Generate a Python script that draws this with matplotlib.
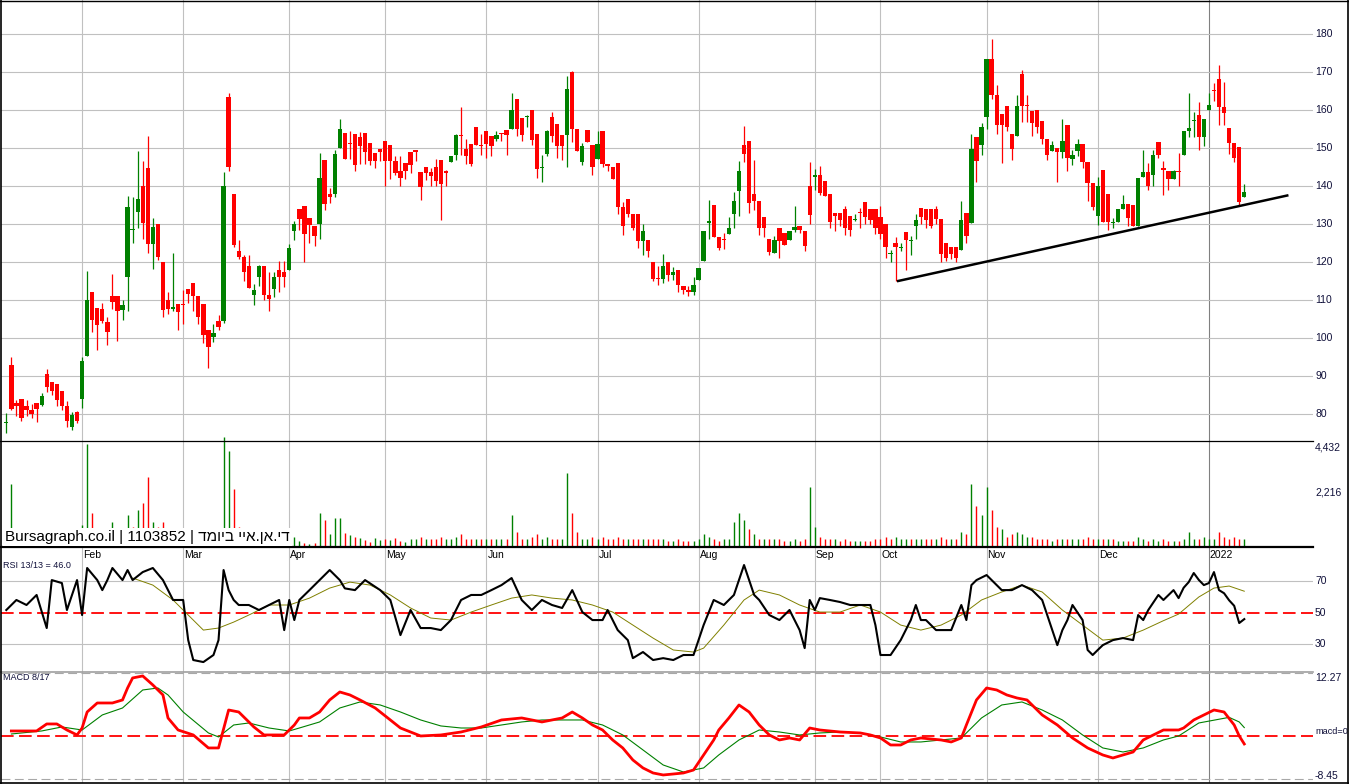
import matplotlib
matplotlib.use("Agg")
import matplotlib.pyplot as plt
from matplotlib.lines import Line2D

plt.rcParams['font.family'] = ['Liberation Sans', 'DejaVu Sans']

# ---------------- data ----------------
opens = [77.5,93.0,82.9,83.9,82.2,81.1,82.9,82.4,90.6,88.4,88.0,86.1,82.0,76.5,80.4,84.0,95.2,112.2,108.0,107.5,
104.2,111.1,111.1,107.3,116.0,128.4,133.1,139.9,144.7,124.7,130.0,120.0,110.1,107.5,108.9,109.0,113.0,114.5,111.0,108.9,
102.2,100.2,104.5,104.5,163.5,138.0,123.0,121.4,119.0,111.2,116.0,119.0,111.4,113.0,118.0,117.3,118.0,128.1,134.0,134.8,
131.7,129.6,130.0,146.9,138.0,138.0,150.0,154.0,151.1,153.7,152.9,154.0,151.3,148.7,149.7,151.9,150.9,146.7,144.0,146.1,
149.0,149.6,143.7,145.1,143.6,145.1,146.9,144.0,146.2,148.1,153.4,149.8,151.1,155.6,150.7,154.6,153.1,152.5,154.0,154.8,
155.1,163.0,157.9,158.1,160.1,153.8,144.8,148.4,158.1,156.4,153.5,153.5,169.9,155.1,146.2,154.8,150.9,147.1,154.6,145.9,
145.1,146.1,134.4,136.7,132.5,132.5,125.4,125.9,120.0,115.6,115.5,120.0,116.6,118.0,113.8,112.5,112.0,115.2,120.2,130.3,
135.1,126.6,125.9,127.4,132.6,138.6,150.7,151.9,138.0,136.0,131.8,126.1,122.4,128.9,127.6,125.7,128.3,129.6,128.2,140.1,
142.4,142.9,141.2,138.0,132.9,132.9,134.0,132.0,131.1,133.0,135.8,134.0,134.0,131.8,130.0,122.0,125.0,123.8,127.9,125.5,
129.6,134.2,134.0,134.0,134.0,131.3,125.0,123.9,123.9,123.2,132.9,130.3,152.9,150.9,158.1,173.5,164.0,159.0,161.1,153.8,
153.1,169.6,161.2,159.8,160.0,157.0,152.5,149.1,150.0,148.9,156.1,147.2,149.1,151.1,146.2,140.8,132.2,144.3,138.0,130.2,
130.5,134.0,135.3,135.1,129.4,142.4,143.7,143.0,151.6,144.7,144.0,141.9,143.7,148.2,154.6,157.2,158.8,152.8,159.9,165.2,
168.2,160.7,155.3,151.3,150.3,137.1]
highs = [80.3,94.9,83.8,84.0,83.8,82.7,83.0,85.5,91.8,88.4,88.0,86.1,83.5,80.4,80.7,94.9,117.7,112.2,108.0,109.2,
105.5,116.9,111.1,110.0,137.3,137.0,149.3,146.7,153.2,131.6,130.0,120.0,112.2,122.4,108.9,112.7,113.0,114.5,111.0,109.0,
102.2,103.7,106.0,143.7,164.6,138.0,125.9,121.9,121.9,114.3,119.3,119.0,117.3,117.3,120.2,120.2,124.8,130.7,134.0,134.8,
131.7,129.6,148.7,146.9,139.5,149.5,157.7,154.0,154.6,153.7,154.1,154.0,151.3,148.7,149.7,151.9,150.9,147.8,147.8,146.1,
149.0,149.6,143.7,145.1,144.7,147.2,146.9,144.2,148.0,153.8,160.9,152.5,151.1,155.6,153.8,154.6,153.1,154.6,154.0,154.8,
164.6,163.0,157.9,158.8,160.1,153.8,148.2,154.8,159.5,156.4,153.5,169.0,170.3,155.1,151.3,154.8,150.9,154.6,154.6,145.9,
145.1,146.1,135.8,136.7,132.5,132.5,130.1,125.9,120.0,118.9,122.2,120.0,118.7,118.0,113.8,113.8,116.1,118.5,128.2,136.4,
135.1,126.6,127.6,131.8,138.3,146.7,155.7,151.9,146.9,136.0,131.8,126.1,126.9,128.9,127.6,128.2,134.8,129.6,128.2,146.2,
144.6,145.2,141.2,138.0,132.9,132.9,134.8,132.0,132.6,134.2,135.8,134.0,134.0,134.8,130.0,123.2,126.5,125.0,127.9,126.9,
132.6,134.2,134.0,134.0,134.8,131.3,125.0,123.9,123.9,136.0,132.9,153.8,152.9,156.6,173.5,178.8,166.7,159.0,161.1,153.8,
164.0,170.4,164.0,159.8,160.0,157.0,152.5,151.9,150.0,157.6,156.1,149.4,152.5,151.1,146.2,140.8,142.3,144.3,138.0,131.6,
134.0,137.7,135.3,135.1,142.1,149.6,146.1,149.6,151.6,146.5,144.0,144.3,148.7,154.6,164.6,159.4,162.1,157.6,164.6,167.1,
171.8,167.5,155.3,151.3,150.3,140.6]
lows = [75.0,81.0,79.4,78.1,79.4,79.0,77.9,82.2,85.9,84.9,82.0,81.1,76.5,75.9,77.6,81.6,95.2,101.5,96.9,104.0,
98.2,107.5,99.1,104.8,107.0,125.0,129.0,126.1,122.4,118.2,120.6,105.4,106.3,107.0,102.0,103.8,109.2,107.0,103.8,98.7,
92.0,98.9,102.0,104.0,143.9,123.9,120.7,114.9,113.2,108.8,113.8,110.0,107.0,110.7,112.0,113.3,118.0,125.9,128.5,119.9,
124.9,124.3,126.1,133.8,135.5,137.0,150.0,147.0,147.0,143.9,145.9,145.9,145.4,144.7,146.7,139.9,141.8,143.0,139.9,141.8,
143.4,146.7,136.4,141.7,139.9,139.9,131.0,139.9,146.2,146.8,148.1,145.9,145.2,150.7,148.2,147.5,147.8,151.8,151.8,148.2,
155.1,153.1,151.9,155.4,150.9,142.1,141.0,147.8,151.5,147.4,146.8,144.9,151.5,149.1,145.4,151.6,143.0,147.1,144.9,144.0,
141.9,132.7,127.2,131.8,128.3,123.7,121.9,121.3,114.9,113.9,114.6,114.9,115.2,112.1,111.6,111.1,111.4,115.2,120.2,126.1,
126.6,123.1,123.5,127.4,128.9,132.0,146.2,132.9,133.6,127.2,126.6,121.9,122.4,121.1,124.4,125.7,127.8,127.6,123.0,130.0,
138.9,137.6,137.3,128.9,128.1,129.6,127.2,126.9,130.7,128.9,130.0,130.0,127.4,126.1,121.1,120.0,114.9,122.8,117.8,121.9,
126.1,130.0,128.9,128.9,130.0,120.0,120.2,120.9,120.0,123.2,125.0,130.3,141.1,148.1,155.0,162.9,153.8,146.1,154.6,146.8,
153.1,156.8,156.8,153.1,154.0,151.1,146.8,149.1,141.0,147.4,143.9,145.4,147.8,144.7,136.0,133.6,129.8,130.5,128.3,129.0,
130.5,134.0,129.6,129.4,129.4,142.4,138.9,139.9,147.4,137.7,139.0,141.9,139.9,148.2,152.9,152.9,149.4,150.6,159.9,162.5,
156.1,156.1,148.5,146.3,135.1,137.1]
closes = [77.7,81.4,82.0,78.9,81.0,80.0,81.3,84.8,87.0,86.1,83.8,82.2,78.1,79.8,78.2,94.0,110.1,104.8,103.3,104.4,
101.5,109.4,107.0,108.8,134.5,128.6,136.7,130.3,124.7,129.3,121.2,107.3,107.5,108.2,106.8,108.8,111.5,111.0,105.4,100.7,
97.5,101.3,103.0,140.0,144.9,124.6,121.4,117.3,113.2,112.7,119.0,111.4,110.2,116.1,116.0,116.0,123.8,130.0,131.2,127.3,
129.8,126.8,142.1,135.3,137.0,148.4,155.1,147.0,151.0,145.4,150.6,148.9,146.5,146.7,148.9,146.7,146.7,143.4,142.1,144.0,
145.6,148.9,139.7,143.3,142.5,141.2,140.5,143.3,148.0,153.5,153.2,147.8,145.9,150.7,150.5,151.1,150.4,153.3,153.8,153.5,
159.9,155.1,153.5,158.5,152.2,144.6,144.9,154.6,153.2,150.4,150.4,165.6,155.1,149.1,150.6,151.6,145.0,151.1,145.9,145.3,
141.9,134.4,129.6,132.5,128.9,125.4,128.2,123.0,115.6,115.5,118.9,116.7,117.3,113.9,112.5,112.0,114.0,118.5,128.2,130.9,
126.6,123.7,125.8,129.0,136.0,144.0,148.4,135.5,136.0,128.9,128.9,122.6,125.9,125.4,124.4,128.2,129.2,128.3,124.1,132.3,
142.9,138.2,137.3,130.4,132.2,131.1,128.9,128.5,131.2,132.9,131.8,131.1,128.9,127.4,123.9,122.1,123.9,123.9,125.7,125.6,
131.1,131.8,131.1,129.6,131.3,122.1,121.1,122.1,121.1,131.1,126.9,149.8,146.5,155.5,173.5,164.0,156.0,156.0,155.4,149.8,
161.0,161.1,161.1,156.6,155.5,152.5,148.2,150.9,148.9,151.8,147.4,148.2,151.1,146.2,140.8,134.6,140.1,130.5,130.5,130.3,
134.0,135.3,131.6,129.4,142.1,143.7,139.9,148.2,148.2,144.3,141.8,143.9,143.6,154.6,155.3,157.3,152.8,157.6,161.4,165.1,
160.7,159.2,151.3,147.5,135.7,138.3]
volume = [150,2600,300,200,250,200,300,350,300,250,
250,300,400,300,250,900,4300,1400,700,600,
500,1000,700,500,1300,800,1500,1800,2900,1000,
800,1000,500,700,300,400,300,400,300,500,
600,400,500,4600,4000,2400,800,600,500,400,
400,300,300,300,300,200,390,390,200,130,
100,130,1400,1100,500,1200,1200,550,460,390,
320,250,190,320,250,300,250,350,200,150,
300,300,400,300,300,300,400,300,300,400,
500,300,300,300,300,300,300,300,300,300,
1300,600,300,300,400,500,300,400,300,300,
300,3100,1400,600,300,300,400,300,400,300,
300,400,300,300,300,300,300,300,300,300,
300,200,200,300,200,200,200,300,500,400,
300,200,300,300,1000,1400,1100,700,500,300,
300,300,300,300,200,200,300,200,300,2500,
800,400,300,300,300,200,300,200,200,200,
200,200,300,300,400,300,400,300,300,300,
300,300,300,300,300,400,300,300,300,600,
500,2600,1700,1300,2500,1500,800,700,400,500,
600,500,400,400,300,300,300,200,300,300,
300,300,300,300,400,300,300,300,300,300,
200,200,200,200,400,300,200,300,200,300,
200,200,200,300,600,300,300,400,300,300,
600,400,300,400,300,300]

rsi_idx = [0,2,4,6,8,9,11,12,14,15,16,18,19,20,21,23,24,25,27,29,31,33,35,36,37,39,41,42,43,44,45,46,48,50,52,54,55,56,57,58,
60,62,64,66,67,69,71,74,76,78,80,82,84,86,88,90,92,94,96,98,100,102,104,106,108,110,112,114,116,118,119,121,123,124,126,128,130,132,134,136,
138,140,142,144,146,147,148,149,151,153,155,157,158,159,160,161,163,165,167,169,171,172,173,175,177,178,179,180,181,182,184,187,189,190,191,192,194,195,197,199,
201,203,205,207,208,209,210,211,213,214,215,216,217,219,221,223,224,225,226,228,229,231,232,233,234,235,236,237,238,239,240,241,242,243,244,245]
rsi_val = [51.8,58.2,55.0,61.4,40.3,70.9,69.0,51.8,70.9,48.6,78.6,70.9,64.5,70.9,78.6,70.9,77.3,70.9,76.0,78.6,70.9,58.2,58.2,32.6,19.9,18.6,23.1,32.6,77.3,64.5,58.2,55.0,55.0,51.8,55.0,58.2,39.0,58.2,45.4,58.2,
64.5,70.9,77.3,70.9,65.6,64.5,70.9,64.5,58.2,35.8,51.8,40.3,40.3,39.0,45.4,58.2,61.4,61.4,64.5,67.7,72.2,58.2,51.8,58.2,55.0,53.1,64.5,50.5,45.4,45.4,51.8,39.0,32.6,21.1,25.0,19.9,21.1,19.9,23.1,23.1,
42.2,58.2,55.0,61.4,80.5,70.9,61.4,58.2,48.6,45.4,51.8,39.0,27.5,58.2,51.8,59.4,58.2,56.9,55.0,55.0,55.0,42.2,23.1,23.1,32.6,39.0,45.4,55.0,45.4,45.4,39.0,39.0,55.0,45.4,67.7,70.9,74.1,70.9,64.5,64.5,
67.7,64.5,58.2,39.0,29.4,39.0,45.4,55.0,45.4,26.3,23.1,26.3,29.4,32.6,33.9,32.6,48.6,45.4,51.8,61.4,58.2,64.5,59.4,66.0,69.6,75.4,71.0,67.7,69.0,76.0,64.5,62.5,58.0,54.5,43.5,46.0]
rsi_ma_idx = [25,29,33,37,39,42,45,48,52,56,60,64,68,72,76,80,84,88,92,96,100,104,108,112,116,120,124,128,132,136,138,142,146,149,153,157,161,165,169,173,
177,181,185,189,193,197,201,205,209,213,217,221,225,229,232,236,239,242,245]
rsi_ma_val = [72.2,67.7,58.2,45.4,39.0,40.3,44.1,48.6,55.0,55.0,59.4,65.8,69.6,67.7,61.4,53.1,46.7,45.4,50.5,55.0,59.4,61.4,59.4,58.2,55.0,50.5,42.2,33.9,26.3,25.0,27.5,42.2,58.2,64.5,61.4,55.0,50.5,50.5,55.0,50.5,
42.2,39.0,42.2,48.6,58.2,63.3,67.7,63.3,51.8,42.2,32.6,33.9,39.0,45.0,49.2,60.1,65.8,67.1,63.8]

macd_idx = [1,6,8,10,12,14,15,16,18,21,23,24,25,27,29,31,32,34,37,40,42,44,46,48,49,51,55,57,58,60,62,64,66,68,70,73,76,78,82,86,
90,94,98,102,106,110,112,114,116,118,120,122,124,126,128,130,132,134,136,138,140,141,143,145,147,149,151,153,155,157,159,161,165,169,171,173,175,177,179,181,
185,187,189,190,192,194,196,198,200,202,205,208,211,214,217,219,221,223,225,227,229,232,233,235,239,241,243,244,245]
macd_val = [0.94,0.94,2.31,2.31,1.13,0.16,1.52,4.65,6.41,6.41,7.0,9.34,11.3,11.69,9.93,7.98,3.48,1.13,0.16,-2.38,-2.38,5.04,4.65,2.70,1.72,0.16,0.16,2.11,3.48,3.48,4.65,7.0,8.56,7.98,7.0,5.43,3.09,1.52,-0.04,0.16,
0.74,1.72,3.09,3.48,2.70,3.48,4.65,3.48,2.11,1.13,-0.82,-2.38,-4.73,-6.29,-7.27,-7.66,-7.47,-7.27,-6.69,-3.75,-0.82,1.13,3.48,6.02,4.65,2.11,0.16,-0.82,-0.43,-0.82,1.52,1.13,0.74,0.55,0.16,-0.43,-1.80,-1.80,-0.82,-0.43,
-0.82,-1.21,-0.43,2.11,7.0,9.34,8.95,7.98,7.39,7.0,4.07,2.11,-0.43,-2.38,-3.75,-4.34,-3.75,-3.17,-0.82,0.16,1.13,1.13,1.52,3.09,5.04,4.65,2.11,-0.04,-1.60]
sig_idx = [1,7,11,15,19,23,27,30,32,35,40,42,45,48,52,56,58,62,66,70,74,78,82,86,90,94,98,102,106,114,118,122,126,130,134,138,141,145,149,153,
157,161,165,169,173,177,181,185,189,193,197,201,205,209,213,217,221,225,229,232,236,242,244,245]
sig_val = [0.35,0.94,1.72,1.13,4.07,5.43,8.95,9.34,7.98,4.65,0.55,-0.23,2.11,2.50,1.52,0.94,1.52,2.70,5.43,6.61,6.02,4.65,3.09,1.92,1.52,1.52,2.11,2.70,3.09,3.09,2.11,0.16,-2.77,-5.71,-7.08,-6.29,-3.75,-0.82,1.13,0.74,
0.16,0.55,0.74,0.55,-0.23,-1.21,-1.21,-0.82,-0.43,3.48,6.02,6.61,5.04,3.09,0.16,-2.38,-3.17,-2.38,-0.82,-0.04,2.50,3.60,2.70,1.60]

month_idx = [15,35,56,75,95,117,137,160,173,194,216,238]
month_lbl = ['Feb','Mar','Apr','May','Jun','Jul','Aug','Sep','Oct','Nov','Dec','2022']
price_ticks = [80,90,100,110,120,130,140,150,160,170,180]
trend_start = (176.5, 115.0)
trend_end = (253.5, 137.5)
vol_ticks = [2216, 4432]
rsi_levels = [30, 50, 70]
macd_top, macd_bot = 12.27, -8.45

UP, DN = '#008000', '#ff0000'
GRID = '#c0c0c0'
LBL = '#10103a'

# ---------------- layout ----------------
W, H = 1349, 784
fig = plt.figure(figsize=(W/100, H/100), dpi=100)
fig.patch.set_facecolor('white')

def rect(top, bottom):
    return [1/W, 1 - bottom/H, 1312/W, (bottom - top)/H]

ax_p = fig.add_axes(rect(0, 441))
ax_v = fig.add_axes(rect(441, 547))
ax_r = fig.add_axes(rect(547, 671))
ax_m = fig.add_axes(rect(671, 783))

n = len(closes)
xs = list(range(n))
xlim = (-5.3/5.053, (1312-5.3)/5.053)
for ax in (ax_p, ax_v, ax_r, ax_m):
    ax.set_xlim(*xlim)
    ax.set_xticks([]); ax.set_yticks([])
    for s in ax.spines.values():
        s.set_visible(False)
    ax.patch.set_alpha(0)
    for k, mi in enumerate(month_idx):
        c = '#808080' if month_lbl[k] == '2022' else GRID
        ax.axvline(mi, color=c, lw=0.8, zorder=0)

ax_p.set_ylim(72.89, 188.95)
ax_v.set_ylim(-42, 4432)
ax_r.set_ylim(12.9, 92.0)
ax_m.set_ylim(-9.23, 12.66)

def rlabel(ax, val, txt, dy=0, size=7.5):
    ax.annotate(txt, xy=(1, val), xycoords=('axes fraction', 'data'), xytext=(2, dy),
                textcoords='offset pixels', va='center', ha='left', fontsize=size, color=LBL,
                annotation_clip=False)

# price panel
for t in price_ticks:
    ax_p.axhline(t, color=GRID, lw=0.8, zorder=0)
    rlabel(ax_p, t, str(t))
body_w = 0.85
for i in xs:
    o, h, l, c = opens[i], highs[i], lows[i], closes[i]
    col = UP if c >= o else DN
    ax_p.vlines(i, l, h, color=col, lw=0.9, zorder=2)
    bot = min(o, c)
    hgt = max(abs(c - o), 0.27)
    ax_p.bar(i, hgt, bottom=bot, width=body_w, color=col, lw=0, zorder=3)
ax_p.plot([trend_start[0], trend_end[0]], [trend_start[1], trend_end[1]], color='black', lw=1.8, zorder=4)

# volume panel (colour by close-to-close change)
vcols = [UP] + [UP if closes[i] >= closes[i-1] else DN for i in xs[1:]]
ax_v.vlines(xs, 0, volume, colors=vcols, lw=1.0, zorder=2, clip_on=False)
rlabel(ax_v, vol_ticks[1], '4,432', dy=-7)
rlabel(ax_v, vol_ticks[0], '2,216', dy=1)

# RSI panel
for lv in rsi_levels:
    if lv == 50:
        ax_r.axhline(lv, color='#ff0000', lw=1.3, ls=(0, (7, 3)), zorder=1)
    else:
        ax_r.axhline(lv, color=GRID, lw=0.8, zorder=0)
    rlabel(ax_r, lv, str(lv))
ax_r.plot(rsi_ma_idx, rsi_ma_val, color='#808000', lw=0.7, zorder=2)
ax_r.plot(rsi_idx, rsi_val, color='black', lw=1.5, zorder=3)
for k, mi in enumerate(month_idx):
    ax_r.annotate(month_lbl[k], xy=(mi, 1), xycoords=('data', 'axes fraction'), xytext=(1, -8),
                  textcoords='offset pixels', va='center', ha='left', fontsize=7.5, color='#000000')
ax_r.annotate('RSI 13/13 = 46.0', xy=(0, 1), xycoords='axes fraction', xytext=(2, -19),
              textcoords='offset pixels', va='center', ha='left', fontsize=6.5, color=LBL)

# MACD panel
ax_m.axhline(macd_top, color='#a8a8a8', lw=0.8, ls=(0, (8, 4)), zorder=0)
ax_m.axhline(macd_bot, color='#a8a8a8', lw=0.8, ls=(0, (8, 4)), zorder=0)
ax_m.axhline(0, color='#ff0000', lw=1.3, ls=(0, (7, 3)), zorder=1)
ax_m.plot(sig_idx, sig_val, color='#008000', lw=0.8, zorder=2)
ax_m.plot(macd_idx, macd_val, color='#ff0000', lw=2.0, zorder=3)
rlabel(ax_m, macd_top, '12.27', dy=-5)
rlabel(ax_m, 0, 'macd=0', dy=4, size=6.6)
rlabel(ax_m, macd_bot, '-8.45', dy=3)
ax_m.annotate('MACD 8/17', xy=(0, 1), xycoords='axes fraction', xytext=(2, -7),
              textcoords='offset pixels', va='center', ha='left', fontsize=6.5, color=LBL)

# separators and frame (figure pixel coords)
def hline(y, x0, x1, color, lw):
    fig.add_artist(Line2D([x0/W, x1/W], [1 - y/H, 1 - y/H], color=color, lw=lw, transform=fig.transFigure))
def vline(x, y0, y1, color, lw):
    fig.add_artist(Line2D([x/W, x/W], [1 - y0/H, 1 - y1/H], color=color, lw=lw, transform=fig.transFigure))

hline(441, 0, 1313, 'black', 0.9)
hline(547, 0, 1313, 'black', 1.6)
hline(671.5, 0, 1313, '#a0a0a0', 1.2)
hline(0.5, 0, W, 'black', 1.0)
hline(783.3, 0, W, 'black', 1.2)
vline(0.6, 0, H, 'black', 1.2)
vline(1347.5, 0, H, 'black', 1.2)

fig.text(5/W, 1 - 537/H, 'Bursagraph.co.il | 1103852 | ' + 'דמויב ייא.ןא.יד',
         fontsize=11, color='black', va='center', ha='left', zorder=10,
         bbox=dict(facecolor='white', edgecolor='none', pad=1.5))

fig.savefig('out.png', dpi=100)
